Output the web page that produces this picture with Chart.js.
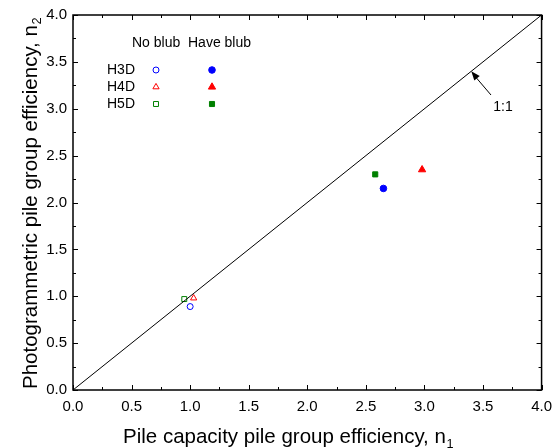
<!DOCTYPE html>
<html><head><meta charset="utf-8">
<script src="https://cdn.jsdelivr.net/npm/chart.js@4/dist/chart.umd.min.js"></script>
<style>html,body{margin:0;padding:0;background:#fff}canvas{display:block}</style>
</head><body>
<canvas id="c" width="560" height="448"></canvas>
<script>
const seriesNames = ['H3D', 'H4D', 'H5D'];
const noBlubX = [1.00, 1.03, 0.95];
const noBlubY = [0.89, 0.98, 0.97];
const blubX = [2.65, 2.98, 2.58];
const blubY = [2.15, 2.35, 2.30];
const tickValues = [0, 0.5, 1, 1.5, 2, 2.5, 3, 3.5, 4];
const lineX = [0, 4];
const lineY = [0, 4];
const colors = ['#0000ff', '#ff0000', '#008000'];
const styles = ['circle', 'triangle', 'rect'];
const openR = [3, 3.6, 3.5];
const fillR = [3.3, 4.2, 3.6];
const FONT = '"Liberation Sans", Arial, sans-serif';

const datasets = [{
  type: 'line', label: '1:1',
  data: lineX.map((x, i) => ({x, y: lineY[i]})),
  borderColor: '#000', borderWidth: 1, pointRadius: 0, fill: false
}];
seriesNames.forEach((n, i) => {
  datasets.push({
    label: n + ' No blub', data: [{x: noBlubX[i], y: noBlubY[i]}],
    pointStyle: styles[i], backgroundColor: '#fff', borderColor: colors[i],
    borderWidth: 1, pointRadius: openR[i]
  });
  datasets.push({
    label: n + ' Have blub', data: [{x: blubX[i], y: blubY[i]}],
    pointStyle: styles[i], backgroundColor: colors[i], borderColor: colors[i],
    borderWidth: 1, pointRadius: fillR[i]
  });
});

function subText(ctx, main, sub, cx, baseline, size) {
  ctx.font = size + 'px ' + FONT;
  const w1 = ctx.measureText(main).width;
  ctx.font = (size * 0.62) + 'px ' + FONT;
  const w2 = ctx.measureText(sub).width;
  const total = w1 + w2;
  ctx.textAlign = 'left'; ctx.textBaseline = 'alphabetic';
  ctx.font = size + 'px ' + FONT;
  ctx.fillText(main, cx - total / 2, baseline);
  ctx.font = (size * 0.62) + 'px ' + FONT;
  ctx.fillText(sub, cx - total / 2 + w1 + 0.5, baseline + size * 0.22);
}

const deco = {
  id: 'deco',
  afterDraw(chart) {
    const ctx = chart.ctx, a = chart.chartArea;
    const xs = chart.scales.x, ys = chart.scales.y;
    ctx.save();
    ctx.strokeStyle = '#000'; ctx.fillStyle = '#000';
    ctx.lineWidth = 1.5;
    ctx.strokeRect(a.left, a.top, a.right - a.left, a.bottom - a.top);
    ctx.lineWidth = 1;
    for (let v = 0; v <= 4.0001; v += 0.25) {
      const major = Math.abs(v * 2 - Math.round(v * 2)) < 1e-6;
      const len = major ? 5 : 3;
      const px = Math.round(xs.getPixelForValue(v)) + 0.5;
      const py = Math.round(ys.getPixelForValue(v)) + 0.5;
      ctx.beginPath();
      ctx.moveTo(px, a.bottom); ctx.lineTo(px, a.bottom - len);
      ctx.moveTo(px, a.top); ctx.lineTo(px, a.top + len);
      ctx.moveTo(a.left, py); ctx.lineTo(a.left + len, py);
      ctx.moveTo(a.right, py); ctx.lineTo(a.right - len, py);
      ctx.stroke();
    }
    subText(ctx, 'Pile capacity pile group efficiency, n', '1', 288, 443, 20.5);
    ctx.save();
    ctx.translate(36.5, 203.5);
    ctx.rotate(-Math.PI / 2);
    subText(ctx, 'Photogrammetric pile group efficiency, n', '2', 0, 0, 20.5);
    ctx.restore();
    ctx.font = '14px ' + FONT;
    ctx.textBaseline = 'middle'; ctx.textAlign = 'left';
    ctx.fillStyle = '#000';
    ctx.fillText('No blub', 132, 43);
    ctx.fillText('Have blub', 188, 43);
    const rowsY = [70, 87, 104];
    seriesNames.forEach((n, i) => {
      ctx.fillStyle = '#000';
      ctx.fillText(n, 107, rowsY[i]);
      ctx.fillStyle = '#fff'; ctx.strokeStyle = colors[i]; ctx.lineWidth = 1;
      Chart.helpers.drawPoint(ctx, {pointStyle: styles[i], radius: openR[i], borderWidth: 1}, 156, rowsY[i]);
      ctx.fillStyle = colors[i];
      Chart.helpers.drawPoint(ctx, {pointStyle: styles[i], radius: fillR[i], borderWidth: 1}, 212, rowsY[i]);
    });
    ctx.fillStyle = '#000'; ctx.strokeStyle = '#000';
    ctx.textAlign = 'center';
    ctx.fillText('1:1', 503, 107);
    const tx = xs.getPixelForValue(3.4), ty = ys.getPixelForValue(3.4);
    const sx = 491, sy = 95;
    ctx.lineWidth = 1;
    ctx.beginPath(); ctx.moveTo(sx, sy); ctx.lineTo(tx + 2, ty + 3); ctx.stroke();
    const ang = Math.atan2(ty - sy, tx - sx);
    const L = 9, W = 3.5;
    ctx.beginPath();
    ctx.moveTo(tx, ty);
    ctx.lineTo(tx - L * Math.cos(ang) + W * Math.sin(ang), ty - L * Math.sin(ang) - W * Math.cos(ang));
    ctx.lineTo(tx - L * Math.cos(ang) - W * Math.sin(ang), ty - L * Math.sin(ang) + W * Math.cos(ang));
    ctx.closePath(); ctx.fill();
    ctx.restore();
  }
};

new Chart(document.getElementById('c'), {
  type: 'scatter',
  data: {datasets},
  options: {
    responsive: false, animation: false,
    layout: {padding: {top: 14, right: 15, left: 0, bottom: 0}},
    plugins: {legend: {display: false}, tooltip: {enabled: false}},
    scales: {
      x: {
        type: 'linear', min: 0, max: 4,
        afterBuildTicks: s => { s.ticks = tickValues.map(v => ({value: v})); },
        afterFit: s => { s.height = 58; },
        grid: {display: false, drawTicks: false}, border: {display: false},
        ticks: {color: '#000', font: {size: 15, family: FONT}, padding: 8, maxRotation: 0,
          callback: v => v.toFixed(1)}
      },
      y: {
        type: 'linear', min: 0, max: 4,
        afterBuildTicks: s => { s.ticks = tickValues.map(v => ({value: v})); },
        afterFit: s => { s.width = 73; },
        grid: {display: false, drawTicks: false}, border: {display: false},
        ticks: {color: '#000', font: {size: 15, family: FONT}, padding: 6,
          callback: v => v.toFixed(1)}
      }
    }
  },
  plugins: [deco]
});
</script>
</body></html>
